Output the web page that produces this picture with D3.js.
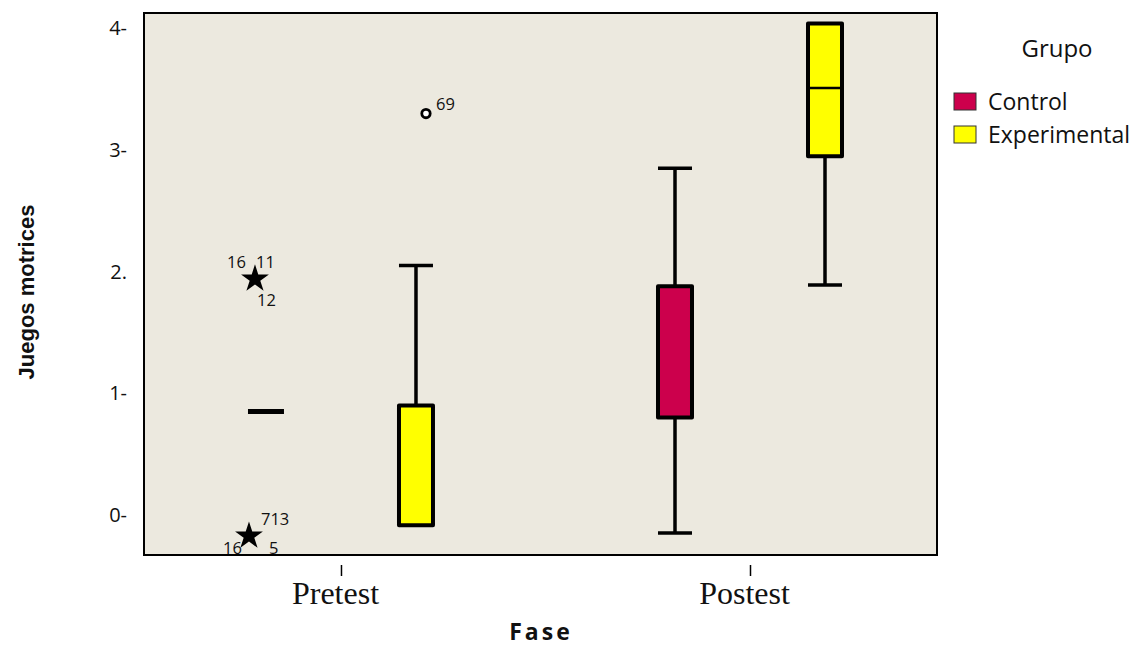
<!DOCTYPE html>
<html>
<head>
<meta charset="utf-8">
<script src="https://cdn.jsdelivr.net/npm/d3@7"></script>
<style>
  html, body { margin: 0; padding: 0; background: #ffffff; }
  svg { display: block; }
</style>
</head>
<body>
<svg id="chart" width="1135" height="648"></svg>
<script>
// ---------------- DATA ----------------
const fases = ["Pretest", "Postest"];
const grupos = ["Control", "Experimental"];
const groupColors = ["#CC004C", "#FFFF00"];
const yTickValues = [0, 1, 2, 3, 4];
const yTickLabels = ["0-", "1-", "2.", "3-", "4-"];

// box statistics per fase x grupo
const boxFase     = ["Pretest", "Pretest",      "Postest", "Postest"];
const boxGrupo    = ["Control", "Experimental", "Control", "Experimental"];
const whiskerLow  = [0.85, -0.085, -0.15, 1.89];
const q1          = [0.85, -0.085,  0.80, 2.95];
const median      = [0.85, -0.085,  1.88, 3.51];
const q3          = [0.85,  0.90,   1.88, 4.04];
const whiskerHigh = [0.85,  2.05,   2.85, 4.04];

// outliers (circle) and extremes (star)
const outFase   = ["Pretest", "Pretest", "Pretest"];
const outGrupo  = ["Control", "Control", "Experimental"];
const outValue  = [1.94, -0.174, 3.30];
const outKind   = ["extreme", "extreme", "outlier"];
const outLabels = [
  ["16", "11", "12"],
  ["713", "16", "5"],
  ["69"]
];

// ---------------- LAYOUT ----------------
const plot = { left: 144, right: 937, top: 13, bottom: 555 };
const boxWidth = 34;
const markerShift = [-11, -17, 10];   // horizontal nudge of each marker from its box centre
// label offsets [dx, dy] relative to each marker (layout only)
const labelOffsets = [
  [[-28, -11], [1, -11], [2, 27]],
  [[12, -11], [-26, 18], [20, 18]],
  [[10, -4]]
];

const svg = d3.select("#chart");

const x0 = d3.scalePoint().domain(fases).range([plot.left, plot.right]).padding(0.4694).align(0.513);
const x1 = d3.scalePoint().domain(grupos).range([-75, 75]);
const y = d3.scaleLinear().domain([-0.33, 4.127]).range([plot.bottom, plot.top]);
const color = d3.scaleOrdinal().domain(grupos).range(groupColors);

// background of plot area
svg.append("rect")
  .attr("x", plot.left).attr("y", plot.top)
  .attr("width", plot.right - plot.left).attr("height", plot.bottom - plot.top)
  .attr("fill", "#ECE9DF");

// boxes
const boxes = boxFase.map((f, i) => ({
  fase: f, grupo: boxGrupo[i], lo: whiskerLow[i], q1: q1[i], med: median[i], q3: q3[i], hi: whiskerHigh[i]
}));

const g = svg.append("g");
boxes.forEach(b => {
  const cx = x0(b.fase) + x1(b.grupo);
  const stroke = "#000";
  if (b.hi > b.q3) {
    g.append("line").attr("x1", cx).attr("x2", cx).attr("y1", y(b.q3)).attr("y2", y(b.hi))
      .attr("stroke", stroke).attr("stroke-width", 3.5);
    g.append("line").attr("x1", cx - boxWidth / 2).attr("x2", cx + boxWidth / 2).attr("y1", y(b.hi)).attr("y2", y(b.hi))
      .attr("stroke", stroke).attr("stroke-width", 3.5);
  }
  if (b.lo < b.q1) {
    g.append("line").attr("x1", cx).attr("x2", cx).attr("y1", y(b.q1)).attr("y2", y(b.lo))
      .attr("stroke", stroke).attr("stroke-width", 3.5);
    g.append("line").attr("x1", cx - boxWidth / 2).attr("x2", cx + boxWidth / 2).attr("y1", y(b.lo)).attr("y2", y(b.lo))
      .attr("stroke", stroke).attr("stroke-width", 3.5);
  }
  if (b.q3 > b.q1) {
    g.append("rect")
      .attr("x", cx - boxWidth / 2).attr("y", y(b.q3))
      .attr("width", boxWidth).attr("height", y(b.q1) - y(b.q3))
      .attr("fill", color(b.grupo)).attr("stroke", stroke).attr("stroke-width", 4)
      .attr("stroke-linejoin", "round");
    g.append("line").attr("x1", cx - boxWidth / 2).attr("x2", cx + boxWidth / 2)
      .attr("y1", y(b.med)).attr("y2", y(b.med))
      .attr("stroke", stroke).attr("stroke-width", 2.5);
  } else {
    // collapsed box: drawn as a thick bar at the median
    g.append("line").attr("x1", cx - boxWidth / 2 - 1).attr("x2", cx + boxWidth / 2 + 1)
      .attr("y1", y(b.med)).attr("y2", y(b.med))
      .attr("stroke", stroke).attr("stroke-width", 5);
  }
});

// outliers and extremes
const labelFont = "'Open Sans', 'Noto Sans', sans-serif";
outValue.forEach((v, i) => {
  const cx = x0(outFase[i]) + x1(outGrupo[i]) + markerShift[i];
  const cy = y(v);
  if (outKind[i] === "extreme") {
    g.append("path").attr("d", d3.symbol().type(d3.symbolStar).size(240)())
      .attr("transform", `translate(${cx},${cy})`).attr("fill", "#000");
  } else {
    g.append("circle").attr("cx", cx).attr("cy", cy).attr("r", 4.2)
      .attr("fill", "#fff").attr("stroke", "#000").attr("stroke-width", 2.8);
  }
  outLabels[i].forEach((txt, j) => {
    const o = labelOffsets[i][j];
    g.append("text").attr("x", cx + o[0]).attr("y", cy + o[1])
      .attr("font-family", labelFont).attr("font-size", 16.5).attr("fill", "#111")
      .text(txt);
  });
});

// plot frame
svg.append("rect")
  .attr("x", plot.left).attr("y", plot.top)
  .attr("width", plot.right - plot.left).attr("height", plot.bottom - plot.top)
  .attr("fill", "none").attr("stroke", "#000").attr("stroke-width", 2);

// y axis
const yAxis = d3.axisLeft(y).tickValues(yTickValues).tickSize(0).tickPadding(0)
  .tickFormat((d, i) => yTickLabels[i]);
const yg = svg.append("g").attr("transform", `translate(${plot.left - 17},0)`).call(yAxis);
yg.select(".domain").remove();
yg.selectAll("text").attr("font-family", labelFont).attr("font-size", 20).attr("fill", "#111");

// x axis
const xAxis = d3.axisBottom(x0).tickSize(11).tickPadding(5);
const xg = svg.append("g").attr("transform", `translate(0,${plot.bottom + 10})`).call(xAxis);
xg.select(".domain").remove();
xg.selectAll(".tick line").attr("stroke", "#000").attr("stroke-width", 1.5);
xg.selectAll("text").attr("font-family", "'Liberation Serif', 'Times New Roman', serif")
  .attr("font-size", 32).attr("fill", "#111").attr("dx", "-6");

// axis titles
svg.append("text").attr("x", 541).attr("y", 640).attr("text-anchor", "middle")
  .attr("font-family", labelFont).attr("font-weight", "bold").attr("font-size", 23)
  .attr("letter-spacing", 3).attr("fill", "#111").text("Fase");

svg.append("text").attr("transform", "translate(34,292) rotate(-90)").attr("text-anchor", "middle")
  .attr("font-family", "'Liberation Sans', Arial, sans-serif").attr("font-weight", "bold").attr("font-size", 22)
  .attr("fill", "#111").text("Juegos motrices");

// legend
const lg = svg.append("g");
lg.append("text").attr("x", 1057).attr("y", 57).attr("text-anchor", "middle")
  .attr("font-family", labelFont).attr("font-size", 24).attr("fill", "#111").text("Grupo");
grupos.forEach((gr, i) => {
  const yy = 93 + i * 33;
  lg.append("rect").attr("x", 954).attr("y", yy).attr("width", 22).attr("height", 17)
    .attr("fill", color(gr)).attr("stroke", "#333").attr("stroke-width", 1);
  lg.append("text").attr("x", 988).attr("y", yy + 17)
    .attr("font-family", labelFont).attr("font-size", 23).attr("fill", "#111").text(gr);
});
</script>
</body>
</html>
